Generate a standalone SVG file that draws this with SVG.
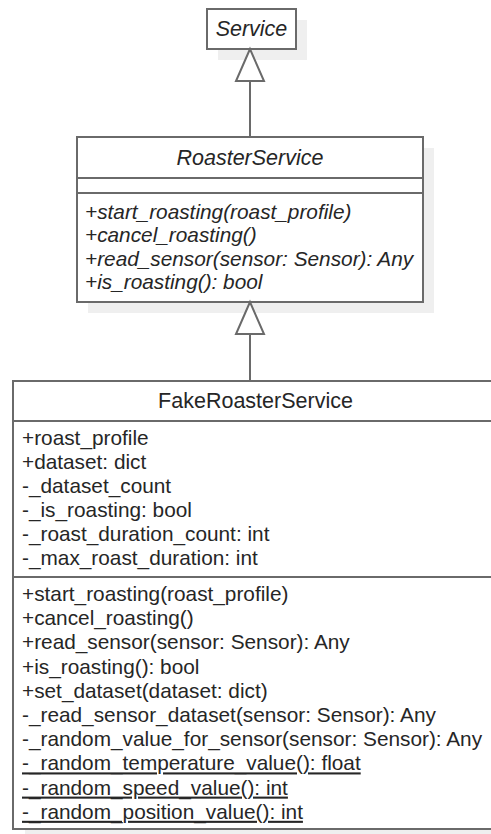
<svg xmlns="http://www.w3.org/2000/svg" width="491" height="834" viewBox="0 0 491 834">
  <style>
    .shadow { fill: #efefef; stroke: none; }
    .box { fill: #ffffff; stroke: #6a6a6a; stroke-width: 2; }
    .div { stroke: #6a6a6a; stroke-width: 2; fill: none; }
    .title { font-family: "Liberation Sans", Arial, sans-serif; font-size: 21.5px; fill: #262626; text-anchor: middle; }
    .member { font-family: "Liberation Sans", Arial, sans-serif; font-size: 20.8px; fill: #262626; }
    .abstract { font-style: italic; }
    .static { text-decoration: underline; }
    .edge { stroke: #6a6a6a; stroke-width: 2; fill: none; }
    .head { fill: #ffffff; stroke: #6a6a6a; stroke-width: 2; stroke-linejoin: miter; }
  </style>

  <!-- abstract base class -->
  <g id="Service">
    <rect class="shadow" x="218" y="20" width="89" height="40"/>
    <rect class="box" x="207" y="9" width="89" height="40"/>
    <text class="title abstract" x="251.5" y="36">Service</text>
  </g>

  <!-- abstract roaster interface -->
  <g id="RoasterService">
    <rect class="shadow" x="88" y="148" width="346" height="165"/>
    <rect class="box" x="77" y="137" width="346" height="165"/>
    <line class="div" x1="77" y1="178" x2="423" y2="178"/>
    <line class="div" x1="77" y1="193" x2="423" y2="193"/>
    <text class="title abstract" x="250" y="165">RoasterService</text>
    <g class="member abstract">
      <text x="85" y="219">+start_roasting(roast_profile)</text>
      <text x="85" y="242.4">+cancel_roasting()</text>
      <text x="85" y="265.8">+read_sensor(sensor: Sensor): Any</text>
      <text x="85" y="289.2">+is_roasting(): bool</text>
    </g>
  </g>

  <!-- concrete fake implementation -->
  <g id="FakeRoasterService">
    <rect class="shadow" x="25" y="392" width="480" height="448"/>
    <rect class="box" x="13" y="381" width="490" height="448"/>
    <line class="div" x1="13" y1="421" x2="503" y2="421"/>
    <line class="div" x1="13" y1="577" x2="503" y2="577"/>
    <text class="title" x="255.5" y="408">FakeRoasterService</text>
    <g class="member">
      <text x="22" y="445">+roast_profile</text>
      <text x="22" y="469">+dataset: dict</text>
      <text x="22" y="493">-_dataset_count</text>
      <text x="22" y="517">-_is_roasting: bool</text>
      <text x="22" y="541">-_roast_duration_count: int</text>
      <text x="22" y="565">-_max_roast_duration: int</text>
      <text x="22" y="601">+start_roasting(roast_profile)</text>
      <text x="22" y="625.2">+cancel_roasting()</text>
      <text x="22" y="649.4">+read_sensor(sensor: Sensor): Any</text>
      <text x="22" y="673.6">+is_roasting(): bool</text>
      <text x="22" y="697.8">+set_dataset(dataset: dict)</text>
      <text x="22" y="722">-_read_sensor_dataset(sensor: Sensor): Any</text>
      <text x="22" y="746.2">-_random_value_for_sensor(sensor: Sensor): Any</text>
      <text class="static" x="22" y="770.4">-_random_temperature_value(): float</text>
      <text class="static" x="22" y="794.6">-_random_speed_value(): int</text>
      <text class="static" x="22" y="818.8">-_random_position_value(): int</text>
    </g>
  </g>

  <!-- generalization connectors -->
  <g id="connectors">
    <line class="edge" x1="250" y1="81" x2="250" y2="137"/>
    <polygon class="head" points="250,49 236,81 264,81"/>
    <line class="edge" x1="250" y1="334" x2="250" y2="381"/>
    <polygon class="head" points="250,302 236,334 264,334"/>
  </g>
</svg>
